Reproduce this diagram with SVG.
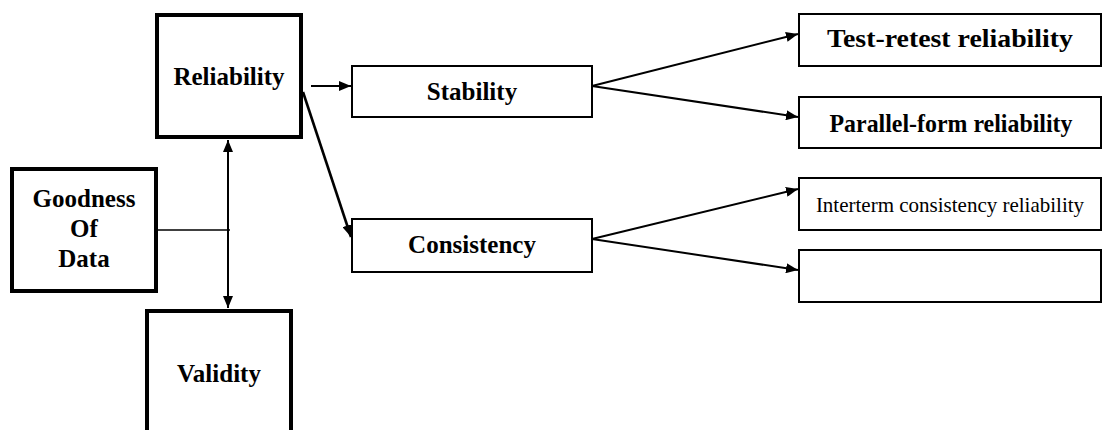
<svg xmlns="http://www.w3.org/2000/svg" width="1119" height="430" viewBox="0 0 1119 430">
  <style>
    .heavy { fill: #fff; stroke: #000; stroke-width: 4; }
    .shade { fill: none; stroke: #000; stroke-width: 2; }
    .box { fill: #fff; stroke: #000; stroke-width: 2; }
    .lbl { font-family: "Liberation Serif", "Times New Roman", serif; font-weight: bold; font-size: 25px; fill: #000; text-anchor: middle; }
    .plain { font-family: "Liberation Serif", "Times New Roman", serif; font-size: 21px; fill: #000; text-anchor: middle; }
    .wire { fill: none; stroke: #000; stroke-width: 2; }
  </style>
  <defs>
    <marker id="arrow" viewBox="0 0 12 10" refX="12" refY="5" markerWidth="12" markerHeight="10" markerUnits="userSpaceOnUse" orient="auto-start-reverse">
      <path d="M0,0 L12,5 L0,10 Z" fill="#000"/>
    </marker>
  </defs>
  <rect width="1119" height="430" fill="#fff"/>

  <g id="connectors">
    <line class="wire" x1="158" y1="230" x2="230" y2="230" style="stroke-width:1.5"/>
    <line class="wire" x1="228" y1="140" x2="228" y2="308" marker-start="url(#arrow)" marker-end="url(#arrow)"/>
    <line class="wire" x1="311" y1="86" x2="351" y2="86" marker-end="url(#arrow)"/>
    <line class="wire" x1="303" y1="92" x2="351" y2="237" style="stroke-width:2.6" marker-end="url(#arrow)"/>
    <line class="wire" x1="592" y1="86" x2="798" y2="34" marker-end="url(#arrow)"/>
    <line class="wire" x1="592" y1="86" x2="798" y2="117" marker-end="url(#arrow)"/>
    <line class="wire" x1="592" y1="239" x2="798" y2="189" marker-end="url(#arrow)"/>
    <line class="wire" x1="592" y1="239" x2="798" y2="270" marker-end="url(#arrow)"/>
  </g>

  <g id="reliability">
    <rect class="heavy" x="157" y="15" width="144" height="122"/>
    <path class="shade" d="M302,15 V138 H157"/>
    <text class="lbl" x="229" y="85">Reliability</text>
  </g>

  <g id="goodness-of-data">
    <rect class="heavy" x="12" y="169" width="144" height="122"/>
    <path class="shade" d="M157,169 V292 H12"/>
    <text class="lbl" x="84" y="207">Goodness</text>
    <text class="lbl" x="84" y="237">Of</text>
    <text class="lbl" x="84" y="267">Data</text>
  </g>

  <g id="validity">
    <rect class="heavy" x="147" y="311" width="144" height="150"/>
    <path class="shade" d="M292,311 V440"/>
    <text class="lbl" x="219" y="382">Validity</text>
  </g>

  <g id="stability">
    <rect class="box" x="352" y="66" width="240" height="51"/>
    <text class="lbl" x="472" y="100">Stability</text>
  </g>

  <g id="consistency">
    <rect class="box" x="352" y="219" width="240" height="53"/>
    <text class="lbl" x="472" y="253">Consistency</text>
  </g>

  <g id="test-retest">
    <rect class="box" x="799" y="14" width="302" height="52"/>
    <text class="lbl" x="950" y="47" textLength="246" lengthAdjust="spacingAndGlyphs">Test-retest reliability</text>
  </g>

  <g id="parallel-form">
    <rect class="box" x="799" y="97" width="302" height="51"/>
    <text class="lbl" x="951" y="132" textLength="243" lengthAdjust="spacingAndGlyphs">Parallel-form reliability</text>
  </g>

  <g id="interterm">
    <rect class="box" x="799" y="178" width="302" height="52"/>
    <text class="plain" x="950" y="212">Interterm consistency reliability</text>
  </g>

  <g id="empty-slot">
    <rect class="box" x="799" y="250" width="302" height="52"/>
  </g>
</svg>
